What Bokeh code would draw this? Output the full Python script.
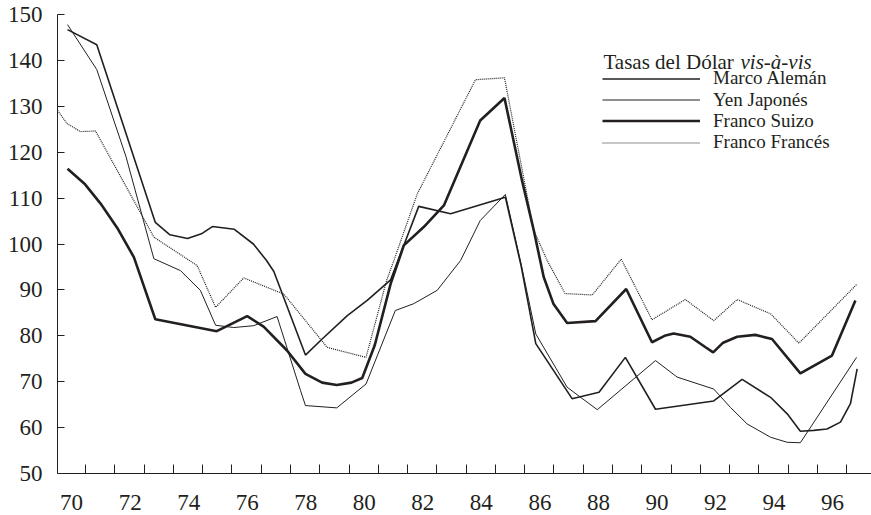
from bokeh.plotting import figure
from bokeh.models import FixedTicker, Legend, LegendItem, Label, Range1d
from bokeh.embed import file_html
from bokeh.resources import INLINE

# ---- data ----
marco_x = [70, 71, 73, 73.5, 74.1, 74.6, 74.95, 75.7, 76.35, 76.8, 77.05, 78.13,
           78.7, 79.56, 80.24, 81.04, 82.0, 83.09, 84.96, 85.5, 86.0, 87.24,
           88.16, 89.06, 90.09, 92.08, 93.05, 94.02, 94.59, 95.04, 95.5,
           95.95, 96.41, 96.75, 96.98]
marco_y = [146.7, 143.4, 104.7, 102.0, 101.2, 102.3, 103.8, 103.2, 100.0, 96.4, 94.0, 75.8,
           79.3, 84.4, 87.7, 92.2, 108.2, 106.6, 110.2, 95.2, 78.3, 66.3,
           67.7, 75.3, 64.0, 65.8, 70.5, 66.6, 63.0, 59.2, 59.4,
           59.7, 61.2, 65.2, 72.8]

yen_x = [70, 71, 72, 72.95, 73.86, 74.54, 75.06, 75.68, 76.36, 77.16, 77.96, 78.13,
         79.2, 80.2, 81.2, 81.83, 82.63, 83.43, 84.1, 84.96, 85.5, 86.0, 87.07,
         88.1, 90.09, 90.83, 92.08, 92.65, 93.22, 94.02, 94.59, 95.04, 96.96]
yen_y = [147.8, 138.0, 119.0, 96.8, 94.2, 89.9, 82.3, 81.8, 82.2, 84.2, 68.1, 64.8,
         64.3, 69.5, 85.5, 87.0, 89.9, 96.4, 105.1, 110.8, 95.6, 80.4, 68.8,
         63.9, 74.6, 71.0, 68.4, 64.4, 60.8, 57.9, 56.8, 56.7, 75.3]

suizo_x = [70, 70.6, 71.13, 71.7, 72.27, 72.6, 73.0, 75.1, 76.14, 76.7, 77.5, 78.13,
           78.7, 79.2, 79.7, 80.07, 80.5, 81.04, 81.49, 82.17, 82.86, 84.1, 84.93,
           85.53, 85.93, 86.27, 86.6, 87.07, 88.04, 89.09, 89.97, 90.4, 90.71, 91.28, 91.8,
           92.06, 92.4, 92.88, 93.5, 94.07, 95.04, 96.12, 96.92]
suizo_y = [116.4, 113.0, 108.8, 103.5, 97.1, 91.0, 83.6, 81.0, 84.3, 82.0, 76.8, 71.7,
           69.8, 69.3, 69.8, 70.8, 78.0, 91.3, 99.7, 103.7, 108.4, 126.9, 131.8,
           113.8, 103.0, 92.8, 87.0, 82.8, 83.2, 90.2, 78.6, 80.0, 80.5, 79.8, 77.5,
           76.4, 78.5, 79.8, 80.2, 79.3, 71.8, 75.7, 87.7]

frances_x = [69.66, 69.99, 70.44, 70.96, 72.95, 74.43, 75.06, 76.02, 77.39, 78.87,
             80.2, 80.9, 81.15, 81.95, 83.94, 84.93, 85.93, 86.39, 87.0, 87.93,
             88.92, 89.97, 91.11, 92.08, 92.88, 94.02, 94.99, 96.98]
frances_y = [129.1, 126.2, 124.5, 124.6, 101.5, 95.3, 86.2, 92.6, 89.1, 77.5,
             75.3, 92.0, 96.4, 110.9, 135.8, 136.2, 103.0, 96.4, 89.2, 88.9,
             96.7, 83.5, 87.9, 83.3, 87.9, 84.8, 78.4, 91.3]

series_names = ["Marco Alemán", "Yen Japonés", "Franco Suizo", "Franco Francés"]
legend_title = "Tasas del Dólar "
legend_title_italic = "vis-à-vis"

x_label_years = [70, 72, 74, 76, 78, 80, 82, 84, 86, 88, 90, 92, 94, 96]
x_labels = ["70", "72", "74", "76", "78", "80", "82", "84", "86", "88", "90", "92", "94", "96"]
x_tick_years = list(range(70, 97))
y_ticks = [50, 60, 70, 80, 90, 100, 110, 120, 130, 140, 150]

# ---- figure ----
INK = "#231f20"
FONT = "Liberation Serif"

p = figure(width=871, height=515, output_backend="svg", toolbar_location=None,
           x_range=Range1d(69.658, 97.47), y_range=Range1d(50, 150),
           min_border_left=57, min_border_right=0, min_border_top=14, min_border_bottom=42)
p.outline_line_color = None
p.xgrid.visible = False
p.ygrid.visible = False
p.background_fill_color = "white"
p.border_fill_color = "white"

r_marco = p.line(marco_x, marco_y, line_color=INK, line_width=1.6)
r_yen = p.line(yen_x, yen_y, line_color=INK, line_width=1.0)
r_suizo = p.line(suizo_x, suizo_y, line_color=INK, line_width=2.6)
r_frances = p.line(frances_x, frances_y, line_color=INK, line_width=1.2, line_dash="1 1")

# x axis: labels slightly right of the year, tick marks between years
label_pos = [y + 0.14 for y in x_label_years]
p.xaxis.ticker = FixedTicker(ticks=label_pos, minor_ticks=[y + 0.62 for y in x_tick_years])
p.xaxis.major_label_overrides = {pos: lab for pos, lab in zip(label_pos, x_labels)}
p.xaxis.major_tick_in = 0
p.xaxis.major_tick_out = 0
p.xaxis.minor_tick_in = 9
p.xaxis.minor_tick_out = 0
p.xaxis.minor_tick_line_color = INK
p.xaxis.axis_line_color = INK
p.xaxis.major_label_standoff = 21
p.xaxis.major_label_text_font = FONT
p.xaxis.major_label_text_font_size = "23px"
p.xaxis.major_label_text_color = INK

p.yaxis.ticker = FixedTicker(ticks=y_ticks, minor_ticks=[])
p.yaxis.major_tick_in = 7
p.yaxis.major_tick_out = 0
p.yaxis.minor_tick_in = 0
p.yaxis.minor_tick_out = 0
p.yaxis.major_tick_line_color = INK
p.yaxis.axis_line_color = INK
p.yaxis.major_label_standoff = 15
p.yaxis.major_label_text_font = FONT
p.yaxis.major_label_text_font_size = "23px"
p.yaxis.major_label_text_color = INK

# one single-row legend per series so the rows can sit as tightly as in the reference
renderers = [r_marco, r_yen, r_suizo, r_frances]
row_bottoms = [383.7, 362.4, 341.1, 319.8]
for name, rend, yb in zip(series_names, renderers, row_bottoms):
    lg = Legend(items=[LegendItem(label=name, renderers=[rend])],
                location=(545, yb), glyph_width=98, glyph_height=19, label_height=19,
                label_standoff=13, spacing=0, padding=0, margin=0,
                border_line_color=None, background_fill_alpha=0,
                label_text_font=FONT, label_text_font_size="19px",
                label_text_color=INK)
    p.add_layout(lg, "center")

p.add_layout(Label(x=546, y=412, x_units="screen", y_units="screen", text=legend_title,
                   text_font=FONT, text_font_size="21px", text_color=INK,
                   text_baseline="alphabetic"))
p.add_layout(Label(x=683, y=412, x_units="screen", y_units="screen", text=legend_title_italic,
                   text_font=FONT, text_font_size="21px", text_color=INK,
                   text_font_style="italic", text_baseline="alphabetic"))

open("out.html", "w").write(file_html(p, INLINE))
